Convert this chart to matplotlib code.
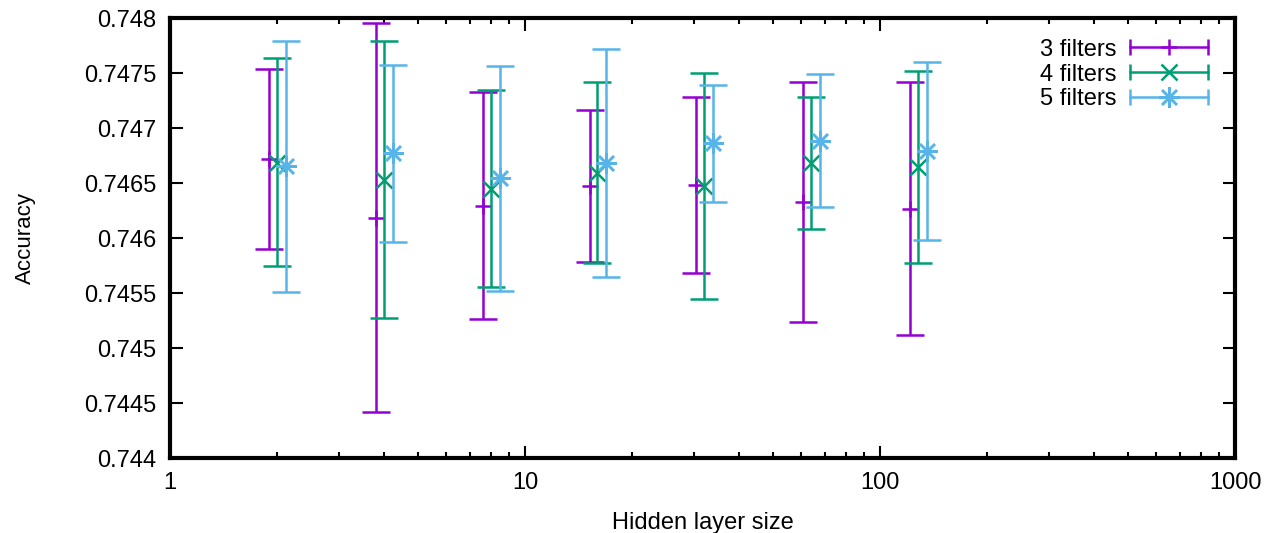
import numpy as np
import matplotlib.pyplot as plt
from matplotlib.lines import Line2D
from matplotlib.legend_handler import HandlerBase
from matplotlib.ticker import FixedLocator, FuncFormatter, LogLocator, NullFormatter

plt.rcParams['font.family'] = ['Liberation Sans', 'DejaVu Sans']

hidden = np.array([2, 4, 8, 16, 32, 64, 128])

# mean, lower end, upper end
f3_mean = [0.746715, 0.746185, 0.746294, 0.746473, 0.746482, 0.746330, 0.746264]
f3_low = [0.745897, 0.744415, 0.745264, 0.745779, 0.745679, 0.745236, 0.745118]
f3_high = [0.747536, 0.747957, 0.747330, 0.747164, 0.747279, 0.747421, 0.747421]

f4_mean = [0.746685, 0.746527, 0.746445, 0.746594, 0.746473, 0.746679, 0.746643]
f4_low = [0.745745, 0.745270, 0.745557, 0.745770, 0.745448, 0.746079, 0.745770]
f4_high = [0.747633, 0.747794, 0.747345, 0.747415, 0.747497, 0.747279, 0.747518]

f5_mean = [0.746657, 0.746770, 0.746542, 0.746685, 0.746861, 0.746885, 0.746791]
f5_low = [0.745506, 0.745964, 0.745515, 0.745648, 0.746324, 0.746279, 0.745982]
f5_high = [0.747791, 0.747575, 0.747566, 0.747721, 0.747394, 0.747491, 0.747603]

# label, data, colour, marker, marker size, x shift
series = [
    ("3 filters", f3_mean, f3_low, f3_high, "#9400d3", "+", 12, 0.95),
    ("4 filters", f4_mean, f4_low, f4_high, "#009e73", "x", 12, 1.0),
    ("5 filters", f5_mean, f5_low, f5_high, "#56b4e9", (8, 2, 0), 15, 1.06),
]

FS = 17
LW = 1.8


class CapHandler(HandlerBase):
    # gnuplot style key sample: horizontal line with end caps and the point in the middle
    def create_artists(self, legend, orig, xd, yd, w, h, fontsize, trans):
        y = -yd + h / 2
        x0, x1 = -xd, -xd + w
        c = orig.get_color()
        line = Line2D([x0, x1], [y, y], color=c, lw=LW)
        caps = Line2D([x0, x1], [y, y], ls="none", marker="|", ms=11, mew=LW, color=c)
        mk = Line2D([(x0 + x1) / 2], [y], ls="none", marker=orig.get_marker(),
                    ms=orig.get_markersize(), mew=LW, color=c)
        for a in (line, caps, mk):
            a.set_transform(trans)
        return [line, caps, mk]


fig = plt.figure(figsize=(12.79, 5.33), dpi=100)
ax = fig.add_axes([0.1329, 0.1407, 0.8327, 0.8255])

handles = []
for label, mean, low, high, color, marker, ms, shift in series:
    mean = np.array(mean)
    yerr = [mean - np.array(low), np.array(high) - mean]
    ax.errorbar(hidden * shift, mean, yerr=yerr, fmt="none", ecolor=color,
                elinewidth=LW, capsize=10, capthick=LW)
    ax.plot(hidden * shift, mean, ls="none", marker=marker, ms=ms, mew=LW, color=color)
    handles.append(Line2D([], [], color=color, marker=marker, ms=ms, label=label))

ax.set_xscale("log")
ax.set_xlim(1, 1000)
ax.set_ylim(0.744, 0.748)
ax.xaxis.set_major_locator(FixedLocator([1, 10, 100, 1000]))
ax.xaxis.set_major_formatter(FuncFormatter(lambda v, p: "%g" % v))
ax.xaxis.set_minor_locator(LogLocator(base=10, subs=np.arange(2, 10)))
ax.xaxis.set_minor_formatter(NullFormatter())
ax.set_yticks(np.arange(0.744, 0.74801, 0.0005))
ax.yaxis.set_major_formatter(FuncFormatter(lambda v, p: "%g" % round(v, 5)))

ax.tick_params(which="both", direction="in", top=True, right=True, width=1.5,
               labelsize=FS, pad=10)
ax.tick_params(which="major", length=9)
ax.tick_params(which="minor", length=4)
for s in ax.spines.values():
    s.set_linewidth(3)

ax.set_xlabel("Hidden layer size", fontsize=FS)
ax.set_ylabel("Accuracy", fontsize=16)
ax.xaxis.set_label_coords(0.5, -0.122)
ax.yaxis.set_label_coords(-0.126, 0.5)

ax.legend(handles=handles, handler_map={Line2D: CapHandler()}, loc="upper right",
          frameon=False, markerfirst=False, fontsize=FS, handlelength=3.3,
          labelspacing=0.12, handletextpad=0.6, borderaxespad=0, borderpad=0,
          bbox_to_anchor=(0.975, 0.953))

fig.savefig("out.png", dpi=100)
